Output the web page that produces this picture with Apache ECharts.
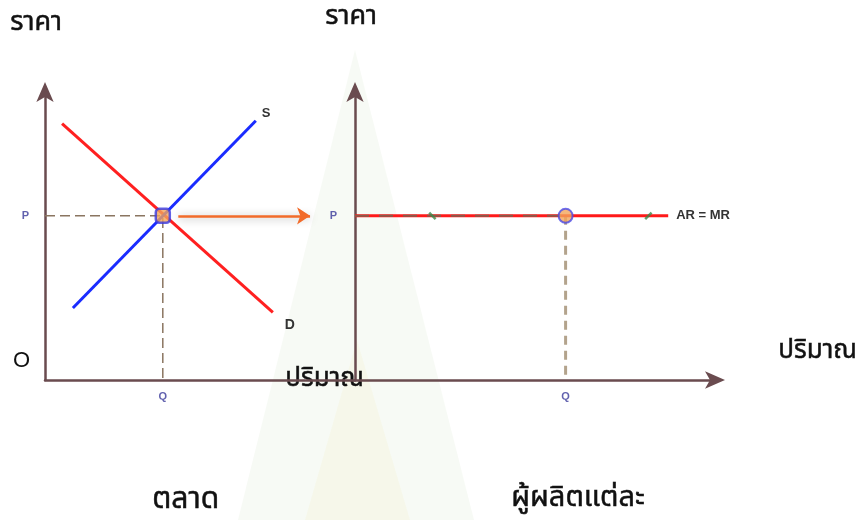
<!DOCTYPE html>
<html>
<head>
<meta charset="utf-8">
<script src="https://cdn.jsdelivr.net/npm/echarts@6/dist/echarts.min.js"></script>
<style>
  html, body { margin: 0; padding: 0; background: #fff; }
  #chart { width: 860px; height: 520px; }
</style>
</head>
<body>
<div id="chart"></div>
<script>
// market panel (left) : quantity / price in axis units 0..10
var supplyLine = [[0.9, 2.5], [6.8, 9.0]];
var demandLine = [[0.55, 8.9], [7.35, 2.35]];
var marketEq = [3.8, 5.7];
var transferArrow = [[4.3, 5.7], [8.55, 5.7]];

// firm panel (right)
var firmEq = [5.85, 5.7];
var arMrLine = [[0, 5.7], [8.7, 5.7]];
var greenTicks = [[2.15, 5.7, 45], [8.15, 5.7, -45]];

var axisLabels = { price: 'P', qty: 'Q', supply: 'S', demand: 'D', arMr: 'AR = MR' };

var thaiFont = "'Noto Sans Thai', 'Loma', 'Garuda', 'Tahoma', 'DejaVu Sans', sans-serif";
var axisColor = '#6a4b4f';
var letterColor = '#3a3a9a';

var chartDom = document.getElementById('chart');
var myChart = echarts.init(chartDom);

function axisPair(gridIndex, xArrow) {
	return {
		x: {
			type: 'value', gridIndex: gridIndex, min: 0, max: 10,
			axisLine: { lineStyle: { color: axisColor, width: 2.5 },
				symbol: xArrow ? ['none', 'arrow'] : ['none', 'none'], symbolSize: [13, 20], symbolOffset: [0, 10] },
			axisTick: { show: false }, axisLabel: { show: false }, splitLine: { show: false }
		},
		y: {
			type: 'value', gridIndex: gridIndex, min: 0, max: 10,
			axisLine: { onZero: false, lineStyle: { color: axisColor, width: 2.5 },
				symbol: ['none', 'arrow'], symbolSize: [13, 20], symbolOffset: [0, 10] },
			axisTick: { show: false }, axisLabel: { show: false }, splitLine: { show: false }
		}
	};
}

var a0 = axisPair(0, false);
var a1 = axisPair(1, true);

var letterLabel = { fontSize: 11, fontWeight: 'bold', fontFamily: 'Arial, sans-serif', color: letterColor };
var curveLabel = { fontWeight: 'bold', fontFamily: 'Arial, sans-serif', color: '#333' };

function thaiText(txt, left, top, size) {
	return { type: 'text', left: left, top: top,
		style: { text: txt, font: size + 'px ' + thaiFont, fill: '#111', stroke: '#111', lineWidth: 0.5 } };
}

var option = {
	animation: false,
	grid: [
		{ left: 45, top: 92, width: 310, height: 288 },
		{ left: 355, top: 92, width: 360, height: 288 }
	],
	xAxis: [a0.x, a1.x],
	yAxis: [a0.y, a1.y],
	graphic: [
		// faint watermark behind the charts
		{ type: 'polygon', z: -10, silent: true,
			shape: { points: [[355, 50], [238, 520], [474, 520]] },
			style: { fill: 'rgba(205,225,195,0.16)' } },
		{ type: 'polygon', z: -9, silent: true,
			shape: { points: [[357, 340], [305, 520], [410, 520]] },
			style: { fill: 'rgba(240,235,170,0.14)' } },
		thaiText('ราคา', 10, 11, 27),
		thaiText('ราคา', 325, 5, 27),
		thaiText('ปริมาณ', 778, 339, 26),
		thaiText('ปริมาณ', 285, 367, 26),
		{ type: 'text', left: 13, top: 350, style: { text: 'O', font: '22px Arial, Liberation Sans, sans-serif', fill: '#111' } },
		thaiText('ตลาด', 152, 487, 30),
		thaiText('ผู้ผลิตแต่ละ', 511, 485, 29)
	],
	series: [
		// left: dashed guides to P and Q
		{ type: 'line', xAxisIndex: 0, yAxisIndex: 0, symbol: 'none', z: 1,
			data: [[0, marketEq[1]], marketEq, [marketEq[0], 0]],
			lineStyle: { color: '#8a7560', width: 1.5, type: [10, 5] } },
		{ type: 'line', xAxisIndex: 0, yAxisIndex: 0, symbol: 'none', z: 3,
			data: supplyLine,
			endLabel: Object.assign({ show: true, formatter: axisLabels.supply, fontSize: 13, offset: [-2, -7] }, curveLabel),
			lineStyle: { color: '#1a2cff', width: 3 } },
		{ type: 'line', xAxisIndex: 0, yAxisIndex: 0, symbol: 'none', z: 2,
			data: demandLine,
			endLabel: Object.assign({ show: true, formatter: axisLabels.demand, fontSize: 14, offset: [4, 13] }, curveLabel),
			lineStyle: { color: '#ff2020', width: 3 } },
		{ type: 'lines', coordinateSystem: 'cartesian2d', xAxisIndex: 0, yAxisIndex: 0, z: 4,
			symbol: ['none', 'arrow'], symbolSize: 13,
			data: [{ coords: transferArrow }],
			lineStyle: { color: '#f26b2a', width: 2.5, opacity: 1, shadowBlur: 8, shadowColor: 'rgba(0,0,0,0.35)', shadowOffsetY: 1 } },
		{ type: 'scatter', xAxisIndex: 0, yAxisIndex: 0, z: 5,
			symbol: 'roundRect', symbolSize: 14, data: [marketEq],
			itemStyle: { color: '#f2a55a', borderColor: '#3a3ae0', borderWidth: 2.5 } },
		// left: letters P and Q
		{ type: 'scatter', xAxisIndex: 0, yAxisIndex: 0, symbolSize: 0,
			data: [
				{ value: [0, marketEq[1]], label: { show: true, position: 'left', distance: 16, formatter: axisLabels.price } },
				{ value: [marketEq[0], 0], label: { show: true, position: 'bottom', distance: 11, formatter: axisLabels.qty } }
			],
			label: letterLabel },

		// right: AR = MR
		{ type: 'line', xAxisIndex: 1, yAxisIndex: 1, symbol: 'none', z: 2,
			data: arMrLine,
			endLabel: Object.assign({ show: true, formatter: axisLabels.arMr, fontSize: 13, distance: 8 }, curveLabel),
			lineStyle: { color: '#ff1a1a', width: 3 } },
		{ type: 'line', xAxisIndex: 1, yAxisIndex: 1, symbol: 'none', z: 3,
			data: [[0, firmEq[1]], firmEq],
			lineStyle: { color: '#8a5a4a', width: 2, type: [14, 10] } },
		{ type: 'line', xAxisIndex: 1, yAxisIndex: 1, symbol: 'none', z: 1,
			data: [firmEq, [firmEq[0], 0]],
			lineStyle: { color: '#b3a38c', width: 3, type: [9, 6] } },
		{ type: 'scatter', xAxisIndex: 1, yAxisIndex: 1, z: 4,
			symbol: 'rect', symbolSize: [2.5, 9],
			data: greenTicks.map(function (t) { return { value: [t[0], t[1]], symbolRotate: t[2] }; }),
			itemStyle: { color: '#3a8a4a' } },
		{ type: 'scatter', xAxisIndex: 1, yAxisIndex: 1, z: 5,
			symbol: 'circle', symbolSize: 14, data: [firmEq],
			itemStyle: { color: '#f2a55a', borderColor: '#4a4ae8', borderWidth: 2 } },
		{ type: 'scatter', xAxisIndex: 1, yAxisIndex: 1, symbolSize: 0,
			data: [
				{ value: [0, firmEq[1]], label: { show: true, position: 'left', distance: 18, formatter: axisLabels.price } },
				{ value: [firmEq[0], 0], label: { show: true, position: 'bottom', distance: 11, formatter: axisLabels.qty } }
			],
			label: letterLabel }
	]
};

myChart.setOption(option);
</script>
</body>
</html>
